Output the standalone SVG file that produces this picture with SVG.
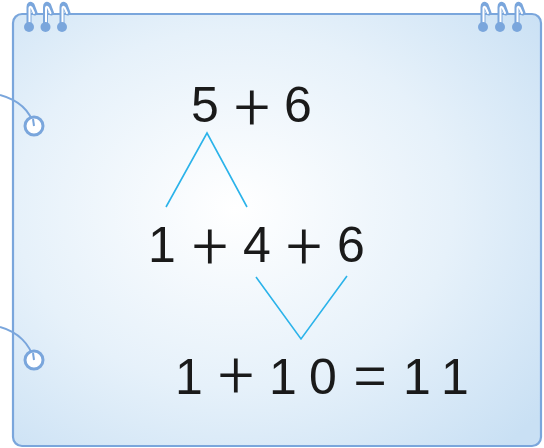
<svg xmlns="http://www.w3.org/2000/svg" width="544" height="448" viewBox="0 0 544 448">
<style>
.t{font-family:"Liberation Sans","DejaVu Sans",sans-serif;font-size:50px;fill:#1a1a1a;text-anchor:middle}
.op{font-family:Roboto,"Liberation Sans",sans-serif;font-weight:300;font-size:64px}
.eq{font-family:Roboto,"Liberation Sans",sans-serif;font-weight:300;font-size:68px}
.ln{stroke:#2bb3ea;stroke-width:1.6;fill:none}
.ring{stroke:#7aa6dc;stroke-width:5;stroke-linecap:round;stroke-linejoin:round;fill:none}
.ringi{stroke:#ffffff;stroke-width:2;stroke-linecap:round;stroke-linejoin:round;fill:none}
.hole{fill:#7aa6dc}
.str{stroke:#7aa6dc;stroke-width:2;fill:none}
</style>
<defs>
<radialGradient id="bg" cx="0.42" cy="0.45" r="0.75">
<stop offset="0" stop-color="#ffffff"/>
<stop offset="0.55" stop-color="#e6f1fa"/>
<stop offset="1" stop-color="#c9e0f4"/>
</radialGradient>
<g id="ringshape">
<path class="ring" d="M0 0 V-20 Q0 -24 3 -22 L6 -14"/>
<path class="ringi" d="M0.5 -3 V-19 Q0.5 -21 2.5 -19.5 L5 -14"/>
<circle class="hole" cx="0" cy="0" r="5"/>
</g>
</defs>
<rect width="544" height="448" fill="#ffffff"/>
<g id="board">
<rect x="13" y="14" width="528" height="432" rx="9" fill="url(#bg)" stroke="#7aa6dc" stroke-width="2.2"/>
<g id="rings">
<use href="#ringshape" x="29" y="27"/><use href="#ringshape" x="45.5" y="27"/><use href="#ringshape" x="62" y="27"/>
<use href="#ringshape" x="483" y="27"/><use href="#ringshape" x="500" y="27"/><use href="#ringshape" x="517" y="27"/>
</g>
<g id="holes">
<path class="str" d="M0 95 C18 100 30 110 34 126"/>
<circle cx="34" cy="126" r="9" fill="#ffffff" stroke="#7aa6dc" stroke-width="3"/>
<path class="str" d="M34 126 L33 119"/>
<path class="str" d="M0 327 C18 332 30 344 34 360"/>
<circle cx="34" cy="360" r="9" fill="#ffffff" stroke="#7aa6dc" stroke-width="3"/>
<path class="str" d="M34 360 L33 353"/>
</g>
</g>
<g id="row1">
<text class="t" x="205" y="122">5</text>
<text class="t op" x="252" y="129">+</text>
<text class="t" x="298" y="122">6</text>
</g>
<g id="row2">
<text class="t" x="162" y="262">1</text>
<text class="t op" x="210" y="268">+</text>
<text class="t" x="257" y="262">4</text>
<text class="t op" x="304" y="268">+</text>
<text class="t" x="351" y="262">6</text>
</g>
<g id="row3">
<text class="t" x="189" y="394">1</text>
<text class="t op" x="236" y="397">+</text>
<text class="t" x="283" y="394">1</text>
<text class="t" x="323" y="394">0</text>
<text class="t eq" x="370" y="399">=</text>
<text class="t" x="417" y="394">1</text>
<text class="t" x="455" y="394">1</text>
</g>
<g id="connectors">
<polyline class="ln" points="166,207 207,133 247,207"/>
<polyline class="ln" points="256,277 301,339 347,276"/>
</g>
</svg>
